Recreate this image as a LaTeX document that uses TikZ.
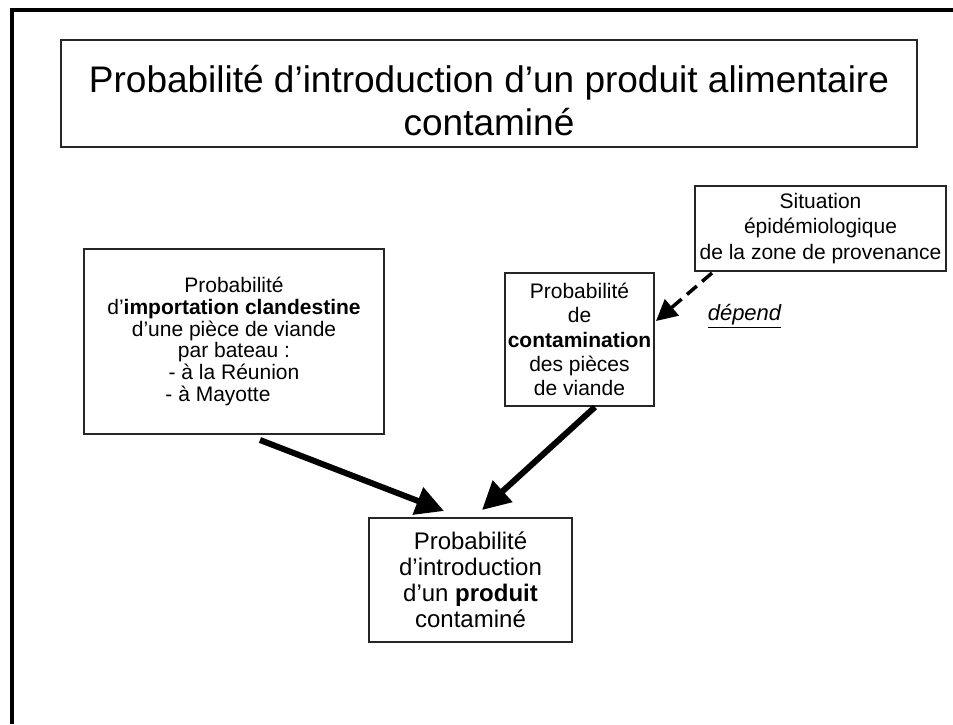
\documentclass[tikz,border=0pt]{standalone}
\usepackage{fontspec}
\setmainfont{Liberation Sans}
\usetikzlibrary{arrows.meta}
\begin{document}
\begin{tikzpicture}[x=1pt,y=-1pt,
  box/.style={draw=black!85, line width=1.2pt, rectangle, inner sep=0pt, align=center},
  bigarrow/.style={line width=6pt, -{Triangle[length=28pt,width=28pt]}},
  dasharrow/.style={line width=3.5pt, dash pattern=on 13pt off 7pt, -{Triangle[length=21pt,width=21pt]}}]
  \useasboundingbox (0,0) rectangle (953,724);
  % outer frame (only top and left edges fall inside the page)
  \draw[line width=4pt, line join=miter] (12,724) -- (12,10) -- (953,10);
  % title
  \node[box, minimum width=856pt, minimum height=107pt, font=\fontsize{37}{43}\selectfont]
    (title) at (489,93.5) {\rule{0pt}{42pt}Probabilité d’introduction d’un produit alimentaire\\contaminé};
  % left box
  \node[box, minimum width=300pt, minimum height=185pt, font=\fontsize{21}{21.8}\selectfont]
    (clandestine) at (234,341.5) {Probabilité\\d’\textbf{importation clandestine}\\d’une pièce de viande\\par bateau :\\- à la Réunion\\- à Mayotte\hspace*{32pt}};
  % middle box
  \node[box, minimum width=149pt, minimum height=133pt, font=\fontsize{21}{24.2}\selectfont]
    (contam) at (579.5,339.5) {Probabilité\\de\\\textbf{contamination}\\des pièces\\de viande};
  % upper right box
  \node[box, minimum width=251pt, minimum height=85pt, font=\fontsize{21}{25.5}\selectfont]
    (situation) at (820.5,228.5) {Situation\\épidémiologique\\de la zone de provenance};
  % bottom box
  \node[box, minimum width=203pt, minimum height=124pt, font=\fontsize{24}{26}\selectfont]
    (intro) at (470.5,580) {Probabilité\\d’introduction\\d’un \textbf{produit}\\contaminé};
  % label of the dashed link
  \node[font=\fontsize{22}{24}\selectfont\itshape, inner sep=0pt] (depend) at (744.5,316) {\underline{dépend}};
  % connectors
  \coordinate (a1s) at (260,440);
  \coordinate (a1e) at (444,511);
  \coordinate (a2s) at (595,407);
  \coordinate (a2e) at (482,510);
  \coordinate (d1s) at (712,273);
  \coordinate (d1e) at (656,321);
  \draw[bigarrow] (a1s) -- (a1e);
  \draw[bigarrow] (a2s) -- (a2e);
  \draw[dasharrow] (d1s) -- (d1e);
\end{tikzpicture}
\end{document}
